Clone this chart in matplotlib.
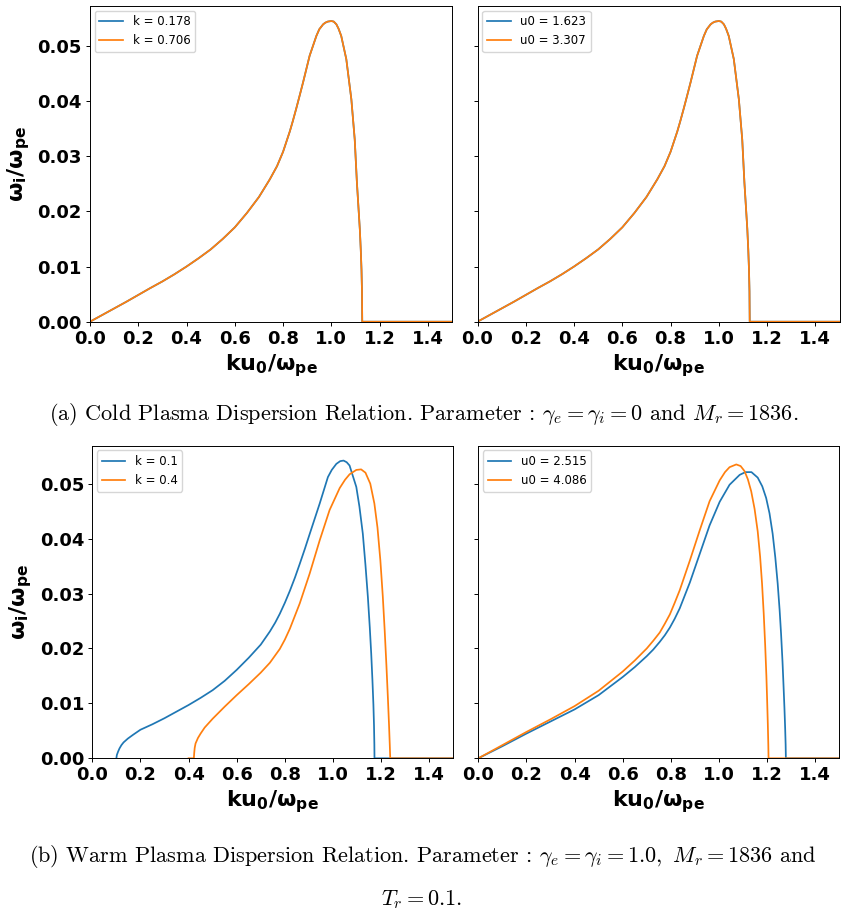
import numpy as np
import matplotlib
matplotlib.use("Agg")
import matplotlib.pyplot as plt

# cold plasma: the curve does not depend on k / u0, both series coincide
cold_x = [0.0, 0.05, 0.1, 0.15, 0.2, 0.25, 0.3, 0.35, 0.4, 0.45, 0.5, 0.55, 0.6, 0.65,
          0.7, 0.745, 0.775, 0.8, 0.828, 0.84, 0.855, 0.87, 0.883, 0.91, 0.938, 0.95,
          0.966, 0.975, 0.985, 1.0, 1.01, 1.021, 1.03, 1.041, 1.062, 1.083, 1.097, 1.106,
          1.112, 1.118, 1.122, 1.125, 1.127, 1.128, 1.3, 1.5]
cold_wi = [0.0, 0.0012, 0.0024, 0.0036, 0.00485, 0.0061, 0.0073, 0.0086, 0.0100, 0.0115,
           0.0131, 0.0150, 0.0171, 0.0197, 0.0226, 0.0258, 0.0282, 0.0308, 0.0345, 0.0363,
           0.0387, 0.0412, 0.0434, 0.0482, 0.0518, 0.0530, 0.0539, 0.0542, 0.0544, 0.0545,
           0.0544, 0.0539, 0.0531, 0.0518, 0.0476, 0.0403, 0.0330, 0.0252, 0.0210, 0.0168,
           0.0130, 0.0094, 0.0055, 0.0, 0.0, 0.0]
cold_k_labels = ['k = 0.178', 'k = 0.706']
cold_u_labels = ['u0 = 1.623', 'u0 = 3.307']

# warm plasma, varying k
warm_k1_x = [0.1, 0.102, 0.107, 0.113, 0.121, 0.13, 0.148, 0.17, 0.2, 0.25, 0.3, 0.35,
             0.4, 0.45, 0.5, 0.55, 0.6, 0.65, 0.7, 0.738, 0.76, 0.779, 0.8, 0.821, 0.842,
             0.862, 0.883, 0.903, 0.945, 0.979, 0.995, 1.014, 1.03, 1.044, 1.057, 1.069,
             1.097, 1.11, 1.124, 1.135, 1.145, 1.153, 1.159, 1.164, 1.168, 1.1705, 1.172,
             1.1725, 1.5]
warm_k1_wi = [0.0, 0.0006, 0.0012, 0.0018, 0.0024, 0.0029, 0.0036, 0.0043, 0.0052, 0.0062,
              0.0073, 0.0085, 0.0097, 0.0110, 0.0124, 0.0141, 0.0161, 0.0183, 0.0207,
              0.0231, 0.0247, 0.0263, 0.0283, 0.0305, 0.0329, 0.0354, 0.0381, 0.0408,
              0.0464, 0.0512, 0.0525, 0.0536, 0.0541, 0.0542, 0.0539, 0.0533, 0.0494,
              0.0458, 0.0409, 0.0352, 0.0294, 0.0238, 0.0190, 0.0142, 0.0098, 0.0060,
              0.0025, 0.0, 0.0]
warm_k2_x = [0.4, 0.422, 0.4235, 0.4255, 0.429, 0.439, 0.45, 0.467, 0.5, 0.55, 0.6, 0.65,
             0.7, 0.738, 0.779, 0.8, 0.821, 0.862, 0.903, 0.945, 0.986, 1.028, 1.05, 1.069,
             1.097, 1.117, 1.135, 1.155, 1.172, 1.185, 1.197, 1.207, 1.215, 1.222, 1.228,
             1.233, 1.236, 1.238, 1.5]
warm_k2_wi = [0.0, 0.0, 0.0010, 0.0019, 0.0027, 0.0037, 0.0045, 0.0056, 0.0072, 0.0094,
              0.0115, 0.0135, 0.0156, 0.0174, 0.0199, 0.0216, 0.0236, 0.0282, 0.0336,
              0.0397, 0.0452, 0.0492, 0.0507, 0.0517, 0.0525, 0.0526, 0.0520, 0.0500,
              0.0464, 0.0420, 0.0360, 0.0295, 0.0232, 0.0170, 0.0112, 0.0060, 0.0025, 0.0,
              0.0]
warm_k_labels = ['k = 0.1', 'k = 0.4']

# warm plasma, varying u0
warm_u1_x = [0.0, 0.1, 0.2, 0.3, 0.4, 0.5, 0.6, 0.65, 0.7, 0.727, 0.754, 0.775, 0.796,
             0.816, 0.837, 0.879, 0.920, 0.961, 1.003, 1.044, 1.086, 1.11, 1.135, 1.161,
             1.18, 1.196, 1.21, 1.223, 1.234, 1.244, 1.252, 1.258, 1.264, 1.268, 1.272,
             1.275, 1.277, 1.278, 1.5]
warm_u1_wi = [0.0, 0.0022, 0.0045, 0.0067, 0.0089, 0.0115, 0.0148, 0.0166, 0.0186, 0.0198,
              0.0212, 0.0224, 0.0238, 0.0254, 0.0273, 0.0320, 0.0372, 0.0424, 0.0467,
              0.0498, 0.0516, 0.0521, 0.0521, 0.0511, 0.0495, 0.0474, 0.0446, 0.0409,
              0.0366, 0.0318, 0.0270, 0.0227, 0.0176, 0.0135, 0.0092, 0.0055, 0.0025, 0.0,
              0.0]
warm_u2_x = [0.0, 0.1, 0.2, 0.3, 0.4, 0.5, 0.6, 0.65, 0.7, 0.727, 0.754, 0.775, 0.796,
             0.816, 0.837, 0.879, 0.920, 0.961, 1.003, 1.025, 1.044, 1.072, 1.09, 1.106,
             1.12, 1.134, 1.148, 1.161, 1.171, 1.179, 1.186, 1.192, 1.197, 1.2, 1.203,
             1.205, 1.206, 1.5]
warm_u2_wi = [0.0, 0.0024, 0.0048, 0.0071, 0.0095, 0.0123, 0.0158, 0.0178, 0.0200, 0.0214,
              0.0229, 0.0245, 0.0262, 0.0283, 0.0306, 0.0360, 0.0415, 0.0468, 0.0506,
              0.0521, 0.0530, 0.0535, 0.0532, 0.0523, 0.0508, 0.0486, 0.0454, 0.0413,
              0.0367, 0.0318, 0.0263, 0.0206, 0.0150, 0.0108, 0.0062, 0.0025, 0.0, 0.0]
warm_u_labels = ['u0 = 2.515', 'u0 = 4.086']

caption_a = r"(a) Cold Plasma Dispersion Relation. Parameter : $\gamma_e = \gamma_i = 0$ and $M_r = 1836$."
caption_b1 = r"(b) Warm Plasma Dispersion Relation. Parameter : $\gamma_e = \gamma_i = 1.0,\ M_r = 1836$ and"
caption_b2 = r"$T_r = 0.1.$"

W, H = 846, 916
fig = plt.figure(figsize=(W / 100, H / 100), dpi=100)


def box(x0, y0, x1, y1):
    # pixel box -> figure fraction
    return [x0 / W, 1 - y1 / H, (x1 - x0) / W, (y1 - y0) / H]


ax_tl = fig.add_axes(box(90, 6, 452, 321.7))
ax_tr = fig.add_axes(box(477.5, 6, 839.5, 321.7), sharey=ax_tl)
ax_bl = fig.add_axes(box(92.3, 445.7, 453.3, 758.3))
ax_br = fig.add_axes(box(478.3, 445.7, 839.3, 758.3), sharey=ax_bl)

panels = [
    (ax_tl, [(cold_x, cold_wi), (cold_x, cold_wi)], cold_k_labels),
    (ax_tr, [(cold_x, cold_wi), (cold_x, cold_wi)], cold_u_labels),
    (ax_bl, [(warm_k1_x, warm_k1_wi), (warm_k2_x, warm_k2_wi)], warm_k_labels),
    (ax_br, [(warm_u1_x, warm_u1_wi), (warm_u2_x, warm_u2_wi)], warm_u_labels),
]

for ax, series, labels in panels:
    for (x, y), lab, col in zip(series, labels, ['#1f77b4', '#ff7f0e']):
        ax.plot(x, y, color=col, lw=1.25, label=lab)
    ax.set_xlim(0, 1.5)
    ax.set_xticks(np.arange(0, 1.41, 0.2))
    ax.tick_params(length=2.8, width=0.7, pad=3, labelsize=13)
    for t in ax.get_xticklabels() + ax.get_yticklabels():
        t.set_fontweight('bold')
    for s in ax.spines.values():
        s.set_linewidth(0.7)
    ax.set_xlabel(r'$\mathbf{ku_0/\omega_{pe}}$', fontsize=16, labelpad=3)
    ax.legend(loc='upper left', fontsize=8.5, borderaxespad=0.4)

for ax in [ax_tl, ax_bl]:
    ax.set_ylim(bottom=0)
    ax.set_yticks([0, 0.01, 0.02, 0.03, 0.04, 0.05])
    ax.set_ylabel(r'$\mathbf{\omega_i/\omega_{pe}}$', fontsize=16, labelpad=4)
for ax in [ax_tr, ax_br]:
    ax.tick_params(labelleft=False)

cap_kw = dict(ha='center', va='center', fontsize=16, family='cmr10', math_fontfamily='cm')
fig.text(424 / W, 1 - 415 / H, caption_a, **cap_kw)
fig.text(423 / W, 1 - 857 / H, caption_b1, **cap_kw)
fig.text(422 / W, 1 - 900 / H, caption_b2, **cap_kw)

fig.savefig('out.png', dpi=100)
